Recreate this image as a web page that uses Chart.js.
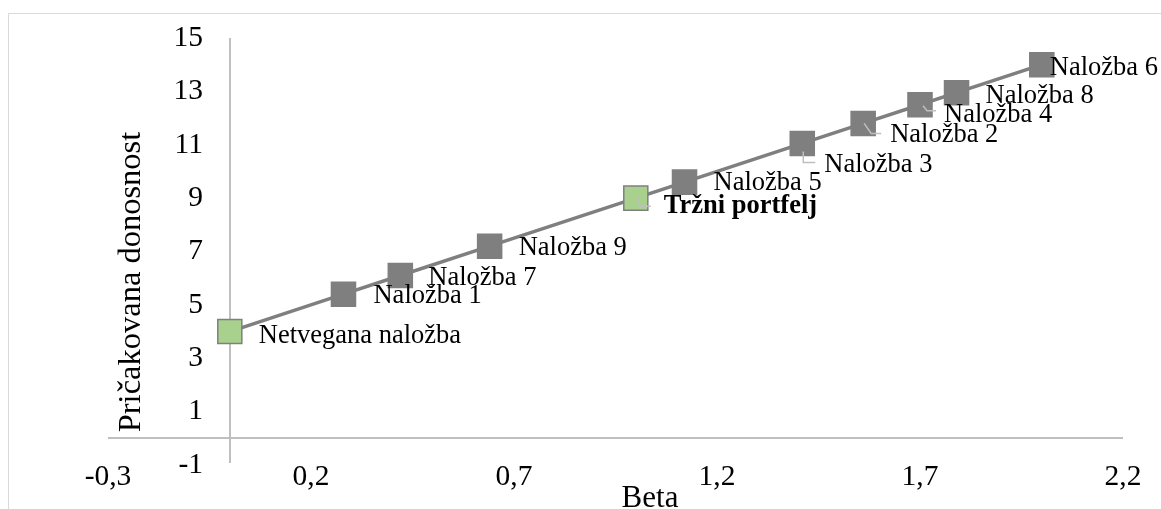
<!DOCTYPE html>
<html>
<head>
<meta charset="utf-8">
<script src="https://cdn.jsdelivr.net/npm/chart.js@4/dist/chart.umd.min.js"></script>
<style>
  html, body { margin: 0; padding: 0; background: #ffffff; }
  #wrap { position: relative; width: 1161px; height: 509px; }
  canvas { display: block; }
</style>
</head>
<body>
<div id="wrap"><canvas id="sml" width="1161" height="509"></canvas></div>
<script>
// Security market line: expected return against beta
const investmentNames = [
  'Netvegana naložba', 'Naložba 1', 'Naložba 7', 'Naložba 9', 'Tržni portfelj',
  'Naložba 5', 'Naložba 3', 'Naložba 2', 'Naložba 4', 'Naložba 8', 'Naložba 6'
];
const betas = [0, 0.28, 0.42, 0.64, 1.0, 1.12, 1.41, 1.56, 1.70, 1.79, 2.0];
const expectedReturns = [4, 5.4, 6.1, 7.2, 9, 9.6, 11.05, 11.8, 12.5, 12.95, 14];
const benchmarkNames = ['Netvegana naložba', 'Tržni portfelj'];

const xTickValues = [-0.3, 0.2, 0.7, 1.2, 1.7, 2.2];
const yTickValues = [-1, 1, 3, 5, 7, 9, 11, 13, 15];

const xTitle = 'Beta';
const yTitle = 'Pričakovana donosnost';

// the return labels stand in a column just left of the zero-beta axis
const yLabelColumnBeta = -0.066;

// label placement: offset of text start / baseline from the marker centre
const labelNudges = {
  'Netvegana naložba': [29, 11],
  'Naložba 1': [30, 9],
  'Naložba 7': [28, 9],
  'Naložba 9': [29, 9],
  'Tržni portfelj': [28, 15],
  'Naložba 5': [29, 8],
  'Naložba 3': [22, 29],
  'Naložba 2': [27, 19],
  'Naložba 4': [24, 17],
  'Naložba 8': [29, 10],
  'Naložba 6': [8, 10]
};
// leader lines for labels that were pulled away from their marker
const leaderPaths = {
  'Tržni portfelj': [[2, 0], [4, 8], [15, 8]],
  'Naložba 3': [[1, 8], [1, 19], [13, 19]],
  'Naložba 2': [[1, 0], [8, 10], [18, 10]],
  'Naložba 4': [[3, 1], [7, 6], [16, 6]]
};

const SERIF = '"Liberation Serif", "Times New Roman", serif';
const GREEN = '#a9d18e';
const GREY = '#7f7f7f';
const AXIS = '#bfbfbf';

const points = betas.map((b, i) => ({ x: b, y: expectedReturns[i] }));
const fills = investmentNames.map(n => benchmarkNames.includes(n) ? GREEN : GREY);

const decorations = {
  id: 'decorations',
  beforeDatasetsDraw(chart) {
    const { ctx, chartArea, scales: { x, y } } = chart;
    ctx.save();
    // outer frame
    ctx.strokeStyle = '#d9d9d9';
    ctx.lineWidth = 1;
    ctx.beginPath();
    ctx.moveTo(8.5, 520);
    ctx.lineTo(8.5, 13.5);
    ctx.lineTo(1170, 13.5);
    ctx.stroke();
    ctx.strokeStyle = AXIS;
    ctx.lineWidth = 2;
    // horizontal axis crossing at zero return
    const y0 = Math.round(y.getPixelForValue(0));
    ctx.beginPath();
    ctx.moveTo(chartArea.left, y0);
    ctx.lineTo(chartArea.right, y0);
    ctx.stroke();
    // vertical axis at zero beta
    const x0 = Math.round(x.getPixelForValue(0));
    ctx.beginPath();
    ctx.moveTo(x0, chartArea.top);
    ctx.lineTo(x0, chartArea.bottom - 2);
    ctx.stroke();
    ctx.restore();
  },
  afterDatasetsDraw(chart) {
    const { ctx, scales: { x, y } } = chart;
    ctx.save();
    ctx.textBaseline = 'alphabetic';
    ctx.textAlign = 'left';
    investmentNames.forEach((name, i) => {
      const px = x.getPixelForValue(betas[i]);
      const py = y.getPixelForValue(expectedReturns[i]);
      const path = leaderPaths[name];
      if (path) {
        ctx.strokeStyle = AXIS;
        ctx.lineWidth = 1.5;
        ctx.beginPath();
        path.forEach(([dx, dy], k) => {
          if (k === 0) ctx.moveTo(px + dx, py + dy); else ctx.lineTo(px + dx, py + dy);
        });
        ctx.stroke();
      }
      const [nx, ny] = labelNudges[name];
      const bold = name === 'Tržni portfelj';
      ctx.font = (bold ? 'bold ' : '') + '26.5px ' + SERIF;
      ctx.fillStyle = '#000000';
      ctx.fillText(name, px + nx, py + ny);
    });
    // axis titles
    ctx.fillStyle = '#000000';
    ctx.textAlign = 'center';
    ctx.font = '31px ' + SERIF;
    ctx.fillText(xTitle, 650, 507);
    ctx.font = '32.5px ' + SERIF;
    ctx.translate(140, 282);
    ctx.rotate(-Math.PI / 2);
    ctx.fillText(yTitle, 0, 0);
    ctx.restore();
  }
};

const fmt = v => String(Math.round(v * 10) / 10).replace('.', ',');

new Chart(document.getElementById('sml'), {
  type: 'scatter',
  data: {
    datasets: [{
      data: points,
      showLine: true,
      borderColor: GREY,
      borderWidth: 3.5,
      pointStyle: 'rect',
      pointRadius: 17,
      pointHoverRadius: 17,
      pointBackgroundColor: fills,
      pointBorderColor: GREY,
      pointBorderWidth: 1.5,
      clip: false
    }]
  },
  options: {
    responsive: false,
    animation: false,
    devicePixelRatio: 1,
    layout: { padding: { left: 108, right: 38, top: 38, bottom: 0 } },
    plugins: { legend: { display: false }, tooltip: { enabled: false } },
    scales: {
      x: {
        type: 'linear',
        position: 'bottom',
        min: xTickValues[0],
        max: xTickValues[xTickValues.length - 1],
        afterBuildTicks: s => { s.ticks = xTickValues.map(v => ({ value: v })); },
        afterFit: s => { s.height = 44; },
        grid: { display: false, drawTicks: false },
        border: { display: false },
        ticks: {
          padding: -5,
          maxRotation: 0,
          autoSkip: false,
          color: '#000000',
          font: { family: SERIF, size: 29.5 },
          callback: v => fmt(v)
        }
      },
      y: {
        type: 'linear',
        position: { x: yLabelColumnBeta },
        min: yTickValues[0],
        max: yTickValues[yTickValues.length - 1],
        afterBuildTicks: s => { s.ticks = yTickValues.map(v => ({ value: v })); },
        grid: { display: false, drawTicks: false },
        border: { display: false },
        ticks: {
          padding: 0,
          autoSkip: false,
          color: '#000000',
          font: { family: SERIF, size: 29.5 },
          callback: v => fmt(v)
        }
      }
    }
  },
  plugins: [decorations]
});
</script>
</body>
</html>
